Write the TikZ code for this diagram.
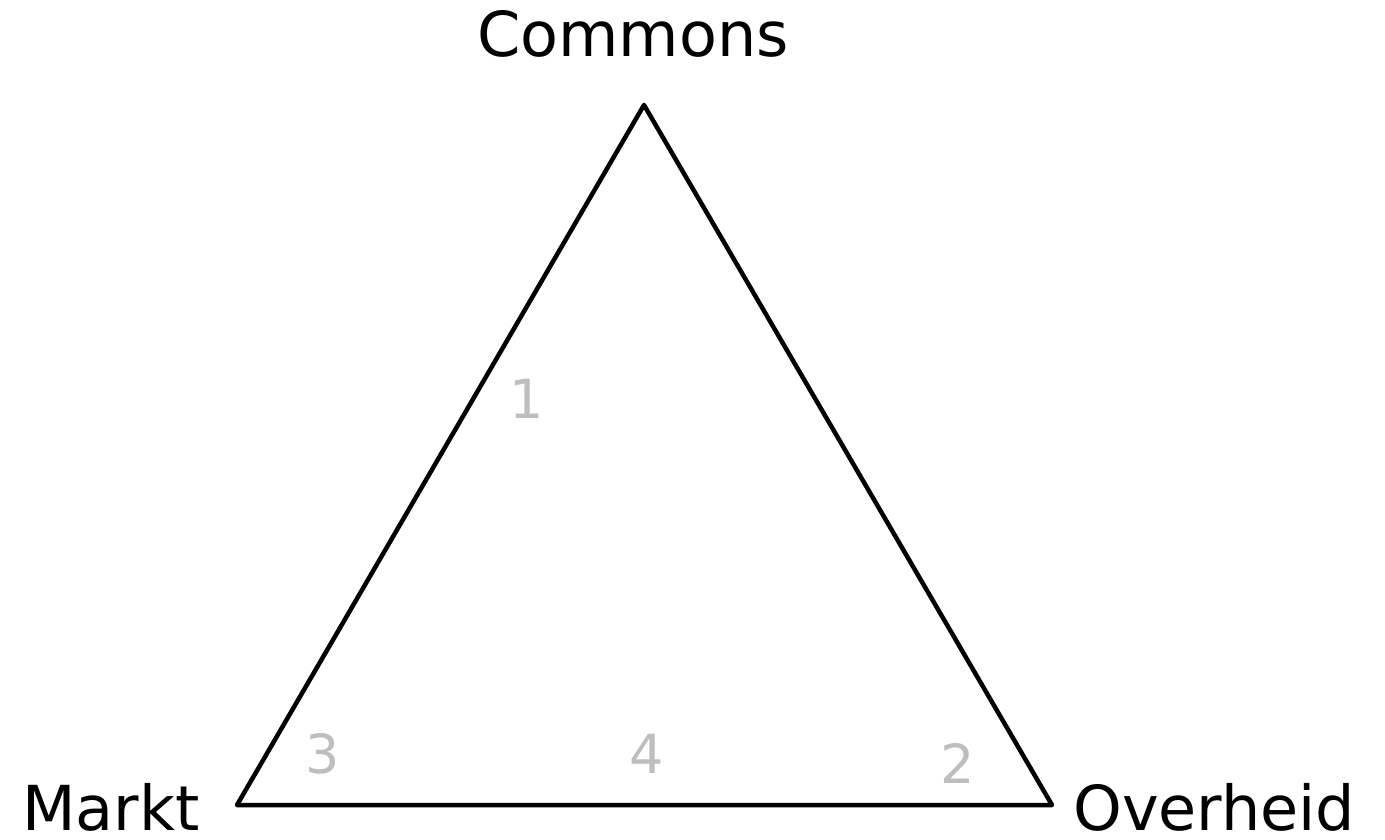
\documentclass[tikz,border=0pt]{standalone}
\usepackage{fontspec}
\setmainfont{DejaVu Sans}
\definecolor{numgray}{RGB}{190,190,190}
\begin{document}
\begin{tikzpicture}[x=1pt,y=1pt,
  lbl/.style={inner sep=0pt,font=\fontsize{62}{70}\selectfont},
  num/.style={inner sep=0pt,anchor=base,text=numgray,font=\fontsize{54}{60}\selectfont},
  edge/.style={line width=4.5pt,line join=round}]
\useasboundingbox (0,0) rectangle (1385,839);
\coordinate (top) at (644,734);
\coordinate (left) at (237,34);
\coordinate (right) at (1052,34);
\draw[edge] (top) -- (left) -- (right) -- cycle;
\node[lbl,anchor=base] (commons) at (633,782) {Commons};
\node[lbl,anchor=base west] (markt) at (22,9) {Markt};
\node[lbl,anchor=base west] (overheid) at (1073,9) {Overheid};
\node[num] (n1) at (527,420) {1};
\node[num] (n3) at (323,66) {3};
\node[num] (n4) at (647,66) {4};
\node[num] (n2) at (958,56) {2};
\end{tikzpicture}
\end{document}
